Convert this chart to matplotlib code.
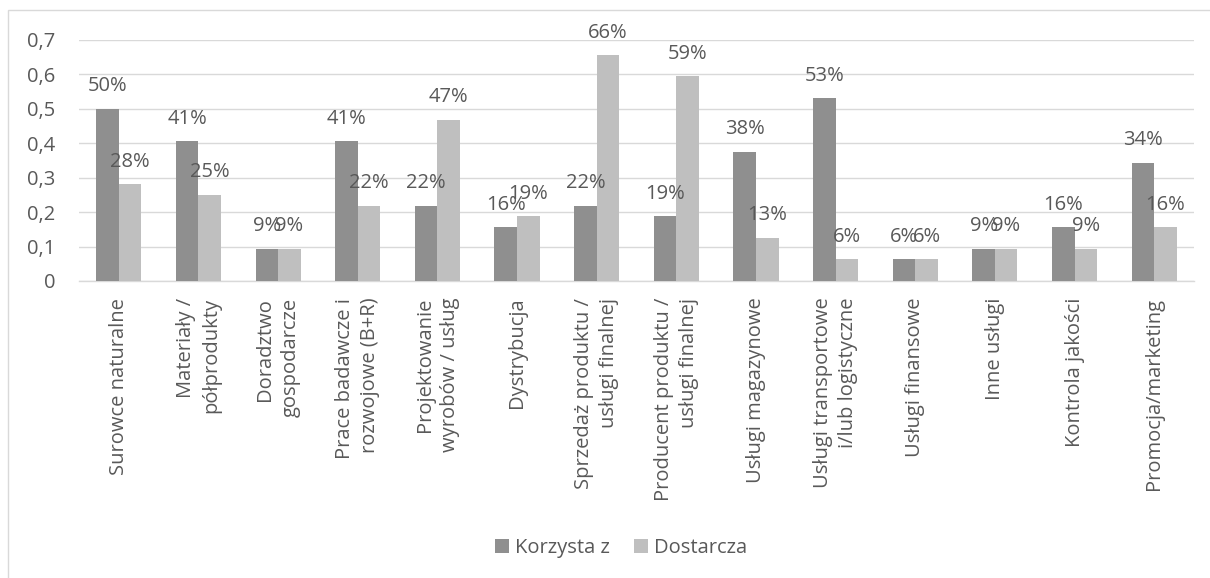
import matplotlib
matplotlib.use("Agg")
import matplotlib.pyplot as plt
import matplotlib.ticker as mticker
from matplotlib.patches import Rectangle
import numpy as np

# ---------------------------------------------------------------------------
# Data
# ---------------------------------------------------------------------------

categories = [
    "Surowce naturalne",
    "Materiały /\npółprodukty",
    "Doradztwo\ngospodarcze",
    "Prace badawcze i\nrozwojowe (B+R)",
    "Projektowanie\nwyrobów / usług",
    "Dystrybucja",
    "Sprzedaż produktu /\nusługi finalnej",
    "Producent produktu /\nusługi finalnej",
    "Usługi magazynowe",
    "Usługi transportowe\ni/lub logistyczne",
    "Usługi finansowe",
    "Inne usługi",
    "Kontrola jakości",
    "Promocja/marketing",
]

korzysta = [0.500, 0.406, 0.094, 0.406, 0.219, 0.156, 0.219,
            0.188, 0.375, 0.531, 0.063, 0.094, 0.156, 0.344]
dostarcza = [0.281, 0.250, 0.094, 0.219, 0.469, 0.188, 0.656,
             0.594, 0.125, 0.063, 0.063, 0.094, 0.094, 0.156]

series_names = ["Korzysta z", "Dostarcza"]
y_ticks = [0, 0.1, 0.2, 0.3, 0.4, 0.5, 0.6, 0.7]

# ---------------------------------------------------------------------------
# Style
# ---------------------------------------------------------------------------

TEXT = "#595959"
DARK = "#8f8f8f"
LIGHT = "#bfbfbf"
GRID = "#d9d9d9"
FONT = 14.5

plt.rcParams["font.family"] = ["Open Sans", "DejaVu Sans"]

fig = plt.figure(figsize=(12.10, 5.78), dpi=100)
ax = fig.add_axes([79 / 1210, 1 - 281 / 578, (1194 - 79) / 1210, (281 - 40) / 578])

# outer chart frame
fig.patches.append(Rectangle((8 / 1210, -0.05), 1.1, 1 - 10 / 578 + 0.05,
                             transform=fig.transFigure, fill=False,
                             edgecolor=GRID, linewidth=1.0))

x = np.arange(len(categories))
w = 0.283
b1 = ax.bar(x - w / 2, korzysta, w, color=DARK, label=series_names[0], zorder=3)
b2 = ax.bar(x + w / 2, dostarcza, w, color=LIGHT, label=series_names[1], zorder=3)

for bars in (b1, b2):
    for r in bars:
        v = r.get_height()
        pct = int(v * 100 + 0.5)  # Excel rounds half up
        ax.annotate(f"{pct}%", (r.get_x() + r.get_width() / 2, v),
                    xytext=(0, 9), textcoords="offset points",
                    ha="center", va="bottom", fontsize=FONT, color=TEXT,
                    zorder=4)

ax.set_xlim(-0.5, len(categories) - 0.5)
ax.set_ylim(0, 0.7)
ax.set_yticks(y_ticks)
ax.yaxis.set_major_formatter(mticker.FuncFormatter(
    lambda v, _: "0" if v == 0 else f"{v:.1f}".replace(".", ",")))
ax.grid(axis="y", color=GRID, linewidth=1.0, zorder=0)
ax.set_axisbelow(True)

ax.set_xticks(x)
ax.set_xticklabels(categories, rotation=90, ha="center", va="top",
                   multialignment="right", fontsize=FONT, color=TEXT,
                   linespacing=1.35)
ax.tick_params(axis="x", length=0, pad=12)
ax.tick_params(axis="y", length=0, pad=17, labelsize=FONT, labelcolor=TEXT)

for s in ("top", "right", "left"):
    ax.spines[s].set_visible(False)
ax.spines["bottom"].set_color(GRID)
ax.spines["bottom"].set_linewidth(1.0)

fig.legend(loc="center", bbox_to_anchor=(621 / 1210, 1 - 548 / 578), ncol=2,
           frameon=False, fontsize=FONT, labelcolor=TEXT,
           handlelength=0.7, handleheight=0.7, handletextpad=0.3,
           columnspacing=1.2)

fig.savefig("out.png", dpi=100)
